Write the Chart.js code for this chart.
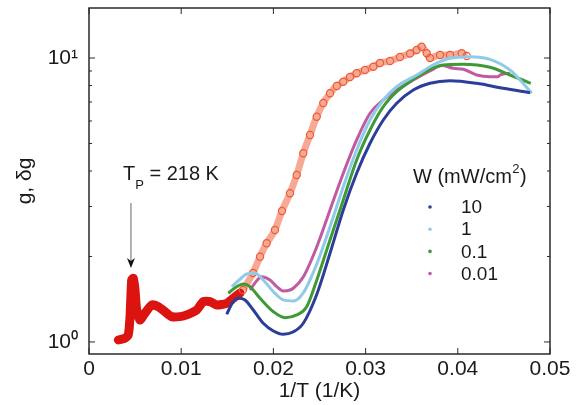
<!DOCTYPE html>
<html><head><meta charset="utf-8">
<script src="https://cdn.jsdelivr.net/npm/chart.js@4.4.1/dist/chart.umd.min.js"></script>
<style>html,body{margin:0;padding:0;background:#fff;}canvas{display:block;}</style>
</head><body>
<canvas id="c" width="579" height="405"></canvas>
<script>
// ---------- data ----------
const xTickValues = [0, 0.01, 0.02, 0.03, 0.04, 0.05];
const xTickLabels = ['0', '0.01', '0.02', '0.03', '0.04', '0.05'];
const yTickValues = [1, 10];
const yTickLabels = ['10\u2070', '10\u00b9'];
const yMinorTicks = [2, 3, 4, 5, 6, 7, 8, 9];

const seriesNames = ['10', '1', '0.1', '0.01'];

// W = 10 mW/cm2
const w10X = [0.01493,0.01565,0.01619,0.01692,0.01782,0.0189,0.0200,0.02107,0.02213,0.02324,0.0247,0.02614,0.02758,0.02903,0.03048,0.03192,0.03337,0.03517,0.03698,0.03915,0.04205,0.04493,0.04783];
const w10Y = [1.252,1.387,1.425,1.406,1.296,1.164,1.093,1.064,1.084,1.164,1.47,2.052,2.916,3.926,5.008,6.05,6.926,7.715,8.146,8.32,8.146,7.82,7.547];
// W = 1
const w1X = [0.01548,0.01638,0.0171,0.018,0.0189,0.0200,0.02107,0.02216,0.02324,0.0247,0.02614,0.02758,0.02903,0.03048,0.03192,0.03337,0.03554,0.03731,0.03915,0.04132,0.04349,0.04566,0.04675,0.04802];
const w1Y = [1.566,1.663,1.736,1.746,1.653,1.503,1.406,1.394,1.488,1.88,2.547,3.523,4.744,6.05,7.114,7.924,8.713,9.449,9.975,10.11,9.895,9.074,8.366,7.51];
// W = 0.1
const w01X = [0.01511,0.01602,0.01674,0.01746,0.01855,0.0200,0.02126,0.02253,0.02361,0.0247,0.02614,0.02758,0.02903,0.03048,0.03192,0.03337,0.03482,0.03698,0.0384,0.04056,0.04349,0.04566,0.04791];
const w01Y = [1.484,1.566,1.601,1.566,1.425,1.278,1.218,1.245,1.331,1.65,2.287,3.162,4.374,5.578,6.736,7.609,8.265,9.125,9.449,9.502,9.275,8.713,8.146];
// W = 0.01
const w001X = [0.01746,0.018,0.01873,0.01963,0.02036,0.02107,0.0218,0.02216,0.02324,0.0247,0.02614,0.02758,0.02903,0.03048,0.03192,0.03337,0.03517,0.03698,0.03829,0.03951,0.0406,0.04205,0.04349,0.04436,0.04458,0.04566];
const w001Y = [1.524,1.614,1.698,1.653,1.566,1.512,1.524,1.546,1.694,2.16,2.916,3.926,5.144,6.387,7.114,7.715,8.366,9.0,9.41,9.199,9.125,8.713,8.595,8.595,8.713,8.834];
// g (dark, low 1/T)
const gX = [0.00318,0.0039,0.00426,0.00445,0.00463,0.0048,0.00499,0.00517,0.00553,0.00607,0.0068,0.00752,0.00824,0.00897,0.00987,0.0106,0.01168,0.0124,0.01312,0.01385,0.01493,0.01565,0.01638];
const gY = [1.016,1.030,1.058,1.228,1.653,1.676,1.524,1.296,1.195,1.262,1.35,1.331,1.278,1.228,1.228,1.245,1.296,1.387,1.387,1.35,1.368,1.425,1.488];
// delta g (open circles)
const dgX = [0.0167,0.01779,0.01855,0.01927,0.02017,0.02093,0.0218,0.02253,0.02324,0.02397,0.0247,0.02541,0.02614,0.02687,0.02758,0.02831,0.02903,0.02993,0.03084,0.03156,0.03265,0.03373,0.03482,0.03554,0.03608,0.03663,0.03698,0.03807,0.03915,0.04042,0.04097];
const dgY = [1.524,1.75,1.997,2.226,2.48,2.892,3.339,3.873,4.617,5.356,6.214,6.943,7.51,7.97,8.252,8.574,8.834,9.074,9.32,9.603,9.759,10.08,10.37,10.67,10.96,10.39,10.0,10.25,10.25,10.39,10.16];

const annotationText = ['T', 'P', ' = 218 K'];
const annotationX = 0.00455;
const legendTitle = ['W (mW/cm', '2', ')'];

// ---------- styles ----------
const FONT = '"Liberation Sans", Arial, Helvetica, sans-serif';
const TXT = '#1a1a1a';
const colors = ['#2c3d9a', '#8fcbe8', '#3e9a35', '#c05aa2'];
const gColor = '#dc1410';
const dgColor = '#ee5a36';

const pts = (xs, ys) => xs.map((x, i) => ({x, y: ys[i]}));
const seriesData = [pts(w10X, w10Y), pts(w1X, w1Y), pts(w01X, w01Y), pts(w001X, w001Y)];

const datasets = [];
seriesData.forEach((d, i) => datasets.push({
  label: seriesNames[i], data: d, borderColor: colors[i], borderWidth: 3,
  pointRadius: 0, cubicInterpolationMode: 'monotone', fill: false, order: 1
}));
datasets.push({
  label: 'dg', data: pts(dgX, dgY), borderColor: 'rgba(238,100,62,0.55)', borderWidth: 7,
  pointRadius: 3.6, pointBorderColor: dgColor, pointBackgroundColor: 'rgba(255,255,255,0)',
  pointBorderWidth: 1.2, cubicInterpolationMode: 'monotone', fill: false, order: 2
});
datasets.push({
  label: 'g', data: pts(gX, gY), borderColor: gColor, borderWidth: 9,
  borderJoinStyle: 'round', borderCapStyle: 'round',
  pointRadius: 0, tension: 0.2, fill: false, order: 3
});

const frame = {
  id: 'frame',
  afterDatasetsDraw(chart) {
    const {ctx, chartArea: a, scales: {x, y}} = chart;
    ctx.save();
    ctx.strokeStyle = '#2a2a2a';
    ctx.lineWidth = 1.5;
    ctx.strokeRect(a.left, a.top, a.right - a.left, a.bottom - a.top);
    ctx.lineWidth = 1;
    const seg = (x1, y1, x2, y2) => { ctx.beginPath(); ctx.moveTo(x1, y1); ctx.lineTo(x2, y2); ctx.stroke(); };
    xTickValues.forEach(v => {
      const p = x.getPixelForValue(v);
      seg(p, a.bottom, p, a.bottom - 6); seg(p, a.top, p, a.top + 6);
    });
    yTickValues.forEach(v => {
      const p = y.getPixelForValue(v);
      seg(a.left, p, a.left + 6, p); seg(a.right, p, a.right - 6, p);
    });
    yMinorTicks.forEach(v => {
      const p = y.getPixelForValue(v);
      seg(a.left, p, a.left + 3, p); seg(a.right, p, a.right - 3, p);
    });
    ctx.restore();
  },
  afterDraw(chart) {
    const {ctx, scales: {x, y}} = chart;
    ctx.save();
    // annotation
    const ax = x.getPixelForValue(annotationX);
    ctx.fillStyle = TXT;
    ctx.textBaseline = 'alphabetic';
    ctx.textAlign = 'left';
    ctx.font = '20px ' + FONT;
    let tx = 123;
    ctx.fillText(annotationText[0], tx, 180);
    tx += ctx.measureText(annotationText[0]).width;
    ctx.font = '13px ' + FONT;
    ctx.fillText(annotationText[1], tx, 189);
    tx += ctx.measureText(annotationText[1]).width;
    ctx.font = '20px ' + FONT;
    ctx.fillText(annotationText[2], tx, 180);
    // arrow
    ctx.strokeStyle = '#8a8a8a';
    ctx.lineWidth = 1.3;
    ctx.beginPath(); ctx.moveTo(ax, 203); ctx.lineTo(ax, 262); ctx.stroke();
    ctx.fillStyle = '#111';
    ctx.beginPath(); ctx.moveTo(ax, 268); ctx.lineTo(ax - 4, 258); ctx.lineTo(ax, 261); ctx.lineTo(ax + 4, 258); ctx.closePath(); ctx.fill();
    // legend
    ctx.fillStyle = TXT;
    ctx.font = '20px ' + FONT;
    let lx = 413;
    ctx.fillText(legendTitle[0], lx, 183);
    lx += ctx.measureText(legendTitle[0]).width;
    ctx.font = '13px ' + FONT;
    ctx.fillText(legendTitle[1], lx + 0.5, 173);
    lx += ctx.measureText(legendTitle[1]).width + 1;
    ctx.font = '20px ' + FONT;
    ctx.fillText(legendTitle[2], lx, 183);
    ctx.font = '19px ' + FONT;
    ctx.textBaseline = 'middle';
    seriesNames.forEach((n, i) => {
      const ly = 207 + i * 22.2;
      ctx.fillStyle = colors[i];
      ctx.beginPath(); ctx.arc(430, ly, 1.8, 0, Math.PI * 2); ctx.fill();
      ctx.fillStyle = TXT;
      ctx.fillText(n, 461, ly + 1);
    });
    ctx.restore();
  }
};

const noPad = s => { s.paddingTop = 0; s.paddingBottom = 0; s.paddingLeft = 0; s.paddingRight = 0; };

new Chart(document.getElementById('c'), {
  type: 'line',
  data: {datasets},
  options: {
    responsive: false, animation: false, devicePixelRatio: 1,
    layout: {padding: {left: 0, right: 29, top: 8, bottom: 0}},
    plugins: {legend: {display: false}, tooltip: {enabled: false}},
    scales: {
      x: {
        type: 'linear', min: 0, max: 0.05,
        afterBuildTicks: s => { s.ticks = xTickValues.map(v => ({value: v})); },
        afterFit: s => { s.height = 51; noPad(s); },
        grid: {display: false, drawTicks: false}, border: {display: false},
        ticks: {font: {family: FONT, size: 21}, color: TXT, padding: 3, maxRotation: 0,
          callback: (v, i) => xTickLabels[i]},
        title: {display: true, text: '1/T (1/K)', font: {family: FONT, size: 21}, color: TXT,
          padding: {top: 0, bottom: 1}}
      },
      y: {
        type: 'logarithmic', min: 0.907, max: 15,
        afterBuildTicks: s => { s.ticks = yTickValues.map(v => ({value: v})); },
        afterFit: s => { s.width = 89; noPad(s); },
        grid: {display: false, drawTicks: false}, border: {display: false},
        ticks: {font: {family: FONT, size: 21}, color: TXT, padding: 11,
          callback: (v, i) => yTickLabels[i]},
        title: {display: true, text: 'g, \u03b4g', font: {family: FONT, size: 21}, color: TXT,
          padding: {top: 13, bottom: 0}}
      }
    }
  },
  plugins: [frame]
});
</script>
</body></html>
